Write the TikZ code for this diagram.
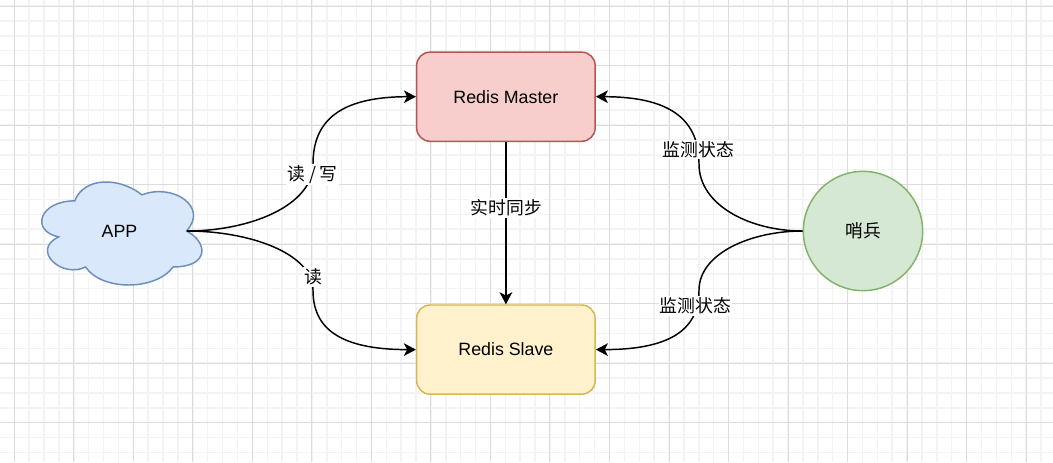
\documentclass[tikz,border=0pt]{standalone}
\usepackage{fontspec}
\setmainfont{Liberation Sans}
\newfontfamily\cjk{Noto Sans CJK SC}
\usetikzlibrary{arrows.meta}
\definecolor{masterfill}{HTML}{F8CECC}
\definecolor{masterline}{HTML}{B85450}
\definecolor{slavefill}{HTML}{FFF2CC}
\definecolor{slaveline}{HTML}{D6B656}
\definecolor{appfill}{HTML}{DAE8FC}
\definecolor{appline}{HTML}{6C8EBF}
\definecolor{sentfill}{HTML}{D5E8D4}
\definecolor{sentline}{HTML}{82B366}
\definecolor{gridminor}{RGB}{243,243,243}
\definecolor{gridmajor}{RGB}{220,220,220}
\begin{document}
\begin{tikzpicture}[x=0.75pt,y=-0.75pt,
  txt/.style={font=\fontsize{13.35pt}{16pt}\selectfont, inner sep=0pt},
  box/.style={txt, rectangle, rounded corners=10.1pt, minimum width=133.9pt, minimum height=66.9pt, line width=1.1pt},
  edge/.style={line width=1.1pt, -{Stealth[length=9pt,width=9.5pt,inset=2.4pt]}},
  lbl/.style={fill=white, inner sep=1pt, font=\cjk\fontsize{13.35pt}{16pt}\selectfont}]
\useasboundingbox (0,0) rectangle (1053,462);
\fill[white] (0,0) rectangle (1053,462);
% grid
\foreach \i in {0,...,69} {
  \pgfmathsetmacro\xx{14.3+14.88*\i}
  \draw[gridminor, line width=1.1pt] (\xx,0) -- (\xx,462);
}
\foreach \j in {0,...,30} {
  \pgfmathsetmacro\yy{6+14.88*\j}
  \draw[gridminor, line width=1.1pt] (0,\yy) -- (1053,\yy);
}
\foreach \i in {0,...,17} {
  \pgfmathsetmacro\xx{14.3+59.52*\i}
  \draw[gridmajor, line width=0.75pt] (\xx,0) -- (\xx,462);
}
\foreach \j in {0,...,7} {
  \pgfmathsetmacro\yy{6+59.52*\j}
  \draw[gridmajor, line width=0.75pt] (0,\yy) -- (1053,\yy);
}
% cloud
\begin{scope}[shift={(30.1,170.8)}, x=134.1pt, y=-90.15pt]
  \draw[fill=appfill, draw=appline, line width=1.1pt]
    (0.25,0.25) .. controls (0.05,0.25) and (0,0.5) .. (0.16,0.55)
    .. controls (0,0.66) and (0.18,0.9) .. (0.31,0.8)
    .. controls (0.4,1) and (0.7,1) .. (0.8,0.8)
    .. controls (1,0.8) and (1,0.6) .. (0.875,0.5)
    .. controls (1,0.3) and (0.8,0.1) .. (0.625,0.2)
    .. controls (0.5,0.05) and (0.3,0.05) .. (0.25,0.25) -- cycle;
\end{scope}
\node[txt, minimum width=100.65pt, minimum height=40pt] (app) at (119.5,231) {APP};
% nodes
\node[box, fill=masterfill, draw=masterline] (master) at (505.9,96.7) {Redis Master};
\node[box, fill=slavefill, draw=slaveline] (slave) at (505.9,349.6) {Redis Slave};
\node[txt, circle, fill=sentfill, draw=sentline, line width=1.1pt, minimum size=89.5pt] (sentinel) at (863,231) {\cjk 哨兵};
% via points
\coordinate (m1) at (313,164);
\coordinate (m2) at (313,290.3);
\coordinate (m3) at (699,164);
\coordinate (m4) at (699,290.3);
% edges
\draw[edge] (app.east) .. controls +(63,0) and +(0,41.7) .. (m1) .. controls +(0,-41.7) and +(-78,0) .. (master.west);
\draw[edge] (app.east) .. controls +(63,0) and +(0,-36.8) .. (m2) .. controls +(0,36.8) and +(-78,0) .. (slave.west);
\draw[edge] (sentinel.west) .. controls +(-52,0) and +(0,41.7) .. (m3) .. controls +(0,-41.7) and +(78,0) .. (master.east);
\draw[edge] (sentinel.west) .. controls +(-52,0) and +(0,-36.8) .. (m4) .. controls +(0,36.8) and +(78,0) .. (slave.east);
\draw[edge] (master.south) -- (slave.north);
% labels
\node[lbl] (l1) at (312.5,174.5) {读 / 写};
\node[lbl] (l2) at (313.3,277) {读};
\node[lbl] (l3) at (506.2,208) {实时同步};
\node[lbl] (l4) at (698.3,149.5) {监测状态};
\node[lbl] (l5) at (695.5,306) {监测状态};
\end{tikzpicture}
\end{document}
